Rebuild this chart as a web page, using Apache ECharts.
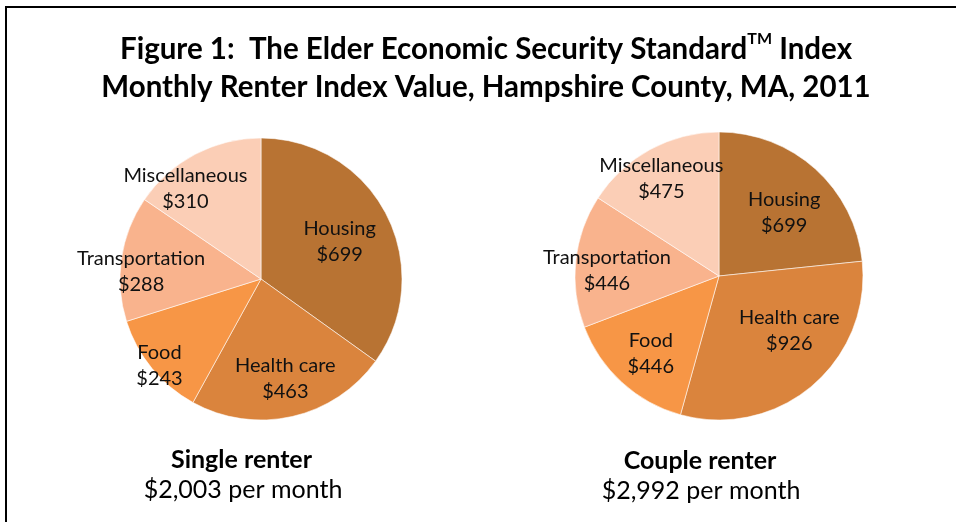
<!DOCTYPE html>
<html><head><meta charset="utf-8">
<script src="https://cdn.jsdelivr.net/npm/echarts@6/dist/echarts.min.js"></script>
<style>
html,body{margin:0;padding:0;background:#fff;overflow:hidden}
#frame{position:absolute;left:5px;top:6px;width:980px;height:540px;border-left:2px solid #000;border-top:2px solid #000;box-sizing:border-box}
#main{position:absolute;left:0;top:0;width:956px;height:522px}
</style></head>
<body><div id="frame"></div><div id="main"></div>
<script>
// ---- data ----
const categories = ['Housing', 'Health care', 'Food', 'Transportation', 'Miscellaneous'];
const singleValues = [699, 463, 243, 288, 310];
const coupleValues = [699, 926, 446, 446, 475];
const pieNames = ['Single renter', 'Couple renter'];
const pieTotals = ['$2,003 per month', '$2,992 per month'];

// ---- style ----
const FONT = 'Lato';
const colors = ['#B87333', '#DA843D', '#F79646', '#F9B38D', '#FBCEB6'];
const pies = [
  { values: singleValues, center: [261, 279], r: 141,
    labelR: [0.595, 0.705, 0.923, 0.831, 0.815], nudge: [-2, 1, 1, 4.7, 12] },
  { values: coupleValues, center: [719, 276], r: 144,
    labelR: [0.611, 0.597, 0.696, 0.758, 0.766], nudge: [-3.7, 12, 1, 3.4, 2] }
];

const series = [];
pies.forEach(p => {
  series.push({
    type: 'pie', center: p.center, radius: [0, p.r], startAngle: 90, clockwise: true,
    silent: true, animation: false, label: { show: false }, labelLine: { show: false },
    itemStyle: { borderColor: 'rgba(255,255,255,0.7)', borderWidth: 0.8 },
    data: p.values.map((v, i) => ({ name: categories[i], value: v, itemStyle: { color: colors[i] } }))
  });
  // label-only overlays (one per slice) to place each label like the original
  p.values.forEach((_, k) => {
    series.push({
      type: 'pie', center: p.center, radius: [0, 2 * p.labelR[k] * p.r],
      startAngle: 90 + p.nudge[k], clockwise: true, silent: true, animation: false, z: 5,
      labelLine: { show: false },
      label: { position: 'inside', formatter: '{b}\n${c}', color: '#111', fontFamily: FONT,
               fontSize: 20, lineHeight: 26 },
      itemStyle: { color: 'rgba(0,0,0,0)', borderWidth: 0 },
      data: p.values.map((v, i) => ({ name: categories[i], value: v, label: { show: i === k } }))
    });
  });
});

const chart = echarts.init(document.getElementById('main'), null, { renderer: 'canvas' });
chart.setOption({
  animation: false,
  series: series,
  graphic: [
    { type: 'text', x: 486, y: 68, style: {
      text: '{b|Figure 1:  The Elder Economic Security Standard}{sup|TM}{b| Index}\n{b|Monthly Renter Index Value, Hampshire County, MA, 2011}',
      align: 'center', verticalAlign: 'middle', fill: '#000',
      rich: {
        b: { fontFamily: FONT, fontWeight: 'bold', fontSize: 29.5, lineHeight: 38, fill: '#000' },
        sup: { fontFamily: FONT, fontWeight: 'bold', fontSize: 16, lineHeight: 38, verticalAlign: 'top', padding: [1, 0, 0, 0], fill: '#000' }
      } } },
    { type: 'text', x: 241.5, y: 460, style: { text: pieNames[0], align: 'center', verticalAlign: 'middle',
      font: 'bold 25px ' + FONT, fill: '#000' } },
    { type: 'text', x: 243, y: 490, style: { text: pieTotals[0], align: 'center', verticalAlign: 'middle',
      font: '25px ' + FONT, fill: '#000' } },
    { type: 'text', x: 700, y: 461, style: { text: pieNames[1], align: 'center', verticalAlign: 'middle',
      font: 'bold 25px ' + FONT, fill: '#000' } },
    { type: 'text', x: 701, y: 491, style: { text: pieTotals[1], align: 'center', verticalAlign: 'middle',
      font: '25px ' + FONT, fill: '#000' } }
  ]
});
</script>
</body></html>
